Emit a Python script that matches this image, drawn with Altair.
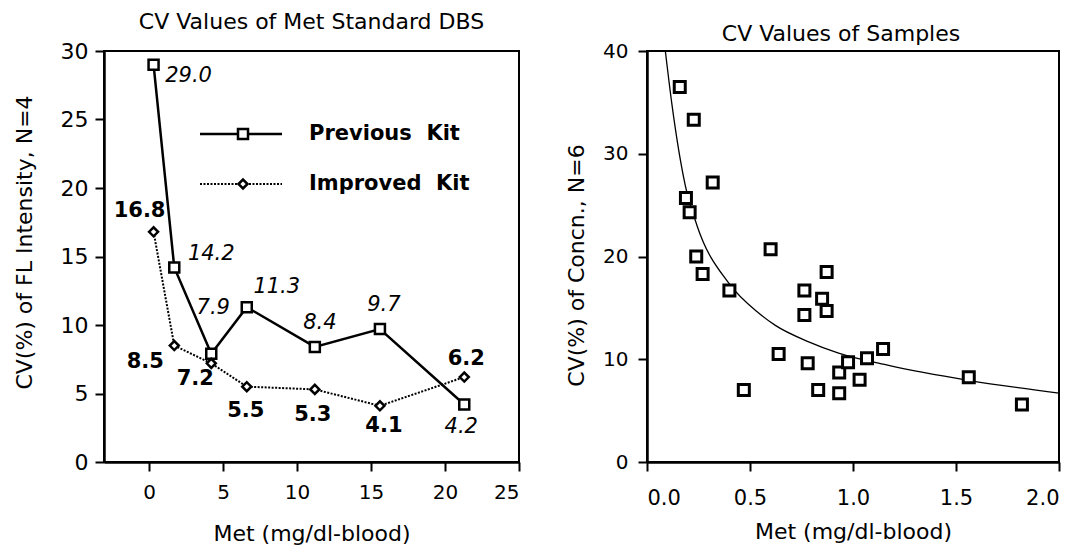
import altair as alt
import pandas as pd

# ---------------- data: left panel (Met standard DBS) ----------------
met_std = [0.3, 1.7, 4.2, 6.6, 11.2, 15.6, 21.3]
cv_previous = [29.0, 14.2, 7.9, 11.3, 8.4, 9.7, 4.2]
cv_improved = [16.8, 8.5, 7.2, 5.5, 5.3, 4.1, 6.2]
series_names = ["Previous\u00a0\u00a0Kit", "Improved\u00a0\u00a0Kit"]
x_ticks_left = [0, 5, 10, 15, 20, 25]
y_ticks_left = [0, 5, 10, 15, 20, 25, 30]
left_title = ["CV Values of Met Standard DBS"]

# ---------------- data: right panel (samples) ----------------
sample_met = [0.159, 0.227, 0.319, 0.189, 0.207, 0.239, 0.270, 0.400, 0.600, 0.872,
              0.764, 0.850, 0.764, 0.872, 0.639, 0.780, 0.470, 0.831, 0.933, 0.933,
              0.976, 1.032, 1.068, 1.146, 1.562, 1.820]
sample_cv = [36.5, 33.3, 27.2, 25.7, 24.3, 20.0, 18.3, 16.7, 20.7, 18.5,
             16.7, 15.9, 14.3, 14.7, 10.5, 9.6, 7.0, 7.0, 6.7, 8.7,
             9.7, 8.0, 10.1, 11.0, 8.25, 5.6]
curve_met = [0.089, 0.121, 0.186, 0.243, 0.397, 0.542, 0.623, 0.785, 0.930, 1.173, 1.560, 2.000]
curve_cv = [40.0, 34.8, 26.9, 23.0, 17.4, 14.5, 13.3, 11.7, 10.6, 9.4, 7.95, 6.7]
x_ticks_right = [0.0, 0.5, 1.0, 1.5, 2.0]
y_ticks_right = [0, 10, 20, 30, 40]
right_title = ["CV Values of Samples"]

FONT = "DejaVu Sans"

std_df = pd.DataFrame({
    "met": met_std + met_std,
    "cv": cv_previous + cv_improved,
    "kit": [series_names[0]] * len(met_std) + [series_names[1]] * len(met_std),
    "idx": list(range(len(met_std))) * 2,
})
legend_df = pd.DataFrame({"kit": series_names})
sample_df = pd.DataFrame({"met": sample_met, "cv": sample_cv})
curve_df = pd.DataFrame({"met": curve_met, "cv": curve_cv})

LW, LH = 415, 411
RW, RH = 412, 411

# ---------------- left panel ----------------
xl = alt.X("met:Q", scale=alt.Scale(domain=[-3.05, 25], nice=False, zero=False),
           axis=alt.Axis(values=x_ticks_left, title="Met (mg/dl-blood)", labelFontSize=20,
                         labelPadding=11, titlePadding=21))
yl = alt.Y("cv:Q", scale=alt.Scale(domain=[0, 30], nice=False),
           axis=alt.Axis(values=y_ticks_left, title="CV(%) of FL Intensity, N=4", labelFontSize=22,
                         labelPadding=7, titlePadding=24, titleY=191))

base = alt.Chart(std_df)
prev = base.transform_filter(alt.datum.kit == series_names[0])
imp = base.transform_filter(alt.datum.kit == series_names[1])

prev_line = prev.mark_line(color="black", strokeWidth=2.5).encode(x=xl, y=yl)
imp_line = imp.mark_line(color="black", strokeWidth=2, strokeDash=[2, 1.5]).encode(x=xl, y=yl)
prev_pts = prev.mark_point(shape="square", size=100, filled=True, fill="white", stroke="black",
                           strokeWidth=2.5, opacity=1).encode(x=xl, y=yl)
imp_pts = imp.mark_point(shape="diamond", size=81, filled=True, fill="white", stroke="black",
                         strokeWidth=2.5, opacity=1).encode(x=xl, y=yl)

# label placement (pixel offsets from each point)
prev_label_offsets = [(35, 11), (37, -13), (2, -46), (30, -20), (5, -24), (4, -24), (-3, 23)]
imp_label_offsets = [(-14, -21), (-29, 16), (-16, 16), (-1, 24), (-2, 26), (4, 20), (2, -18)]

label_layers = []
for i, (dx, dy) in enumerate(prev_label_offsets):
    label_layers.append(
        prev.transform_filter(alt.datum.idx == i).mark_text(
            font=FONT, fontSize=21, fontStyle="italic", color="black",
            align="center", baseline="middle", dx=dx, dy=dy
        ).encode(x=xl, y=yl, text=alt.Text("cv:Q", format=".1f"))
    )
for i, (dx, dy) in enumerate(imp_label_offsets):
    label_layers.append(
        imp.transform_filter(alt.datum.idx == i).mark_text(
            font=FONT, fontSize=21, fontWeight="bold", color="black",
            align="center", baseline="middle", dx=dx, dy=dy
        ).encode(x=xl, y=yl, text=alt.Text("cv:Q", format=".1f"))
    )

# hand-made legend
lg = alt.Chart(legend_df)
lg_prev = lg.transform_filter(alt.datum.kit == series_names[0])
lg_imp = lg.transform_filter(alt.datum.kit == series_names[1])
legend_layers = [
    lg_prev.mark_rule(color="black", strokeWidth=2.5).encode(
        x=alt.value(96), x2=alt.value(178), y=alt.value(83)),
    lg_prev.mark_point(shape="square", size=100, filled=True, fill="white", stroke="black",
                       strokeWidth=2.5, opacity=1).encode(x=alt.value(139), y=alt.value(83)),
    lg_prev.mark_text(font=FONT, fontSize=21, fontWeight="bold", align="left", baseline="middle",
                      color="black").encode(x=alt.value(205), y=alt.value(83), text="kit:N"),
    lg_imp.mark_rule(color="black", strokeWidth=2, strokeDash=[2, 1.5]).encode(
        x=alt.value(96), x2=alt.value(178), y=alt.value(133)),
    lg_imp.mark_point(shape="diamond", size=81, filled=True, fill="white", stroke="black",
                      strokeWidth=2.5, opacity=1).encode(x=alt.value(139), y=alt.value(133)),
    lg_imp.mark_text(font=FONT, fontSize=21, fontWeight="bold", align="left", baseline="middle",
                     color="black").encode(x=alt.value(205), y=alt.value(133), text="kit:N"),
]

left_title_layer = alt.Chart(pd.DataFrame({"t": left_title})).mark_text(
    font=FONT, fontSize=22, color="black", align="center", baseline="alphabetic"
).encode(x=alt.value(LW / 2), y=alt.value(-22), text="t:N")

left = alt.layer(prev_line, imp_line, prev_pts, imp_pts, *label_layers, *legend_layers,
                 left_title_layer).properties(width=LW, height=LH)

# ---------------- right panel ----------------
xr = alt.X("met:Q", scale=alt.Scale(domain=[0, 2], nice=False),
           axis=alt.Axis(values=x_ticks_right, format=".1f", title="Met (mg/dl-blood)",
                         labelFontSize=21, labelPadding=16, titlePadding=13))
yr = alt.Y("cv:Q", scale=alt.Scale(domain=[0, 40], nice=False),
           axis=alt.Axis(values=y_ticks_right, title="CV(%) of Concn., N=6", labelFontSize=20,
                         labelPadding=10, titlePadding=14, titleY=214))

curve = alt.Chart(curve_df).mark_line(color="black", strokeWidth=1.3, interpolate="monotone",
                                      clip=True).encode(x=xr, y=yr)
pts = alt.Chart(sample_df).mark_point(shape="square", size=121, filled=True, fill="white",
                                      stroke="black", strokeWidth=3, opacity=1).encode(x=xr, y=yr)
right_title_layer = alt.Chart(pd.DataFrame({"t": right_title})).mark_text(
    font=FONT, fontSize=22, color="black", align="center", baseline="alphabetic"
).encode(x=alt.value(RW / 2 - 12), y=alt.value(-10), text="t:N")

right = alt.layer(curve, pts, right_title_layer).properties(width=RW, height=RH)

chart = alt.hconcat(left, right, spacing=128, bounds="flush").properties(
    padding={"left": 4, "top": 2, "right": 5, "bottom": 2}
).configure_view(
    stroke="black", strokeWidth=2
).configure_axis(
    labelFont=FONT, titleFont=FONT, titleFontWeight="normal", titleFontSize=22,
    labelColor="black", titleColor="black", domainColor="black", tickColor="black",
    domainWidth=2.5, tickWidth=2, tickSize=9, grid=False
)

chart.save("out.html", embed_options={"renderer": "svg", "actions": False})
